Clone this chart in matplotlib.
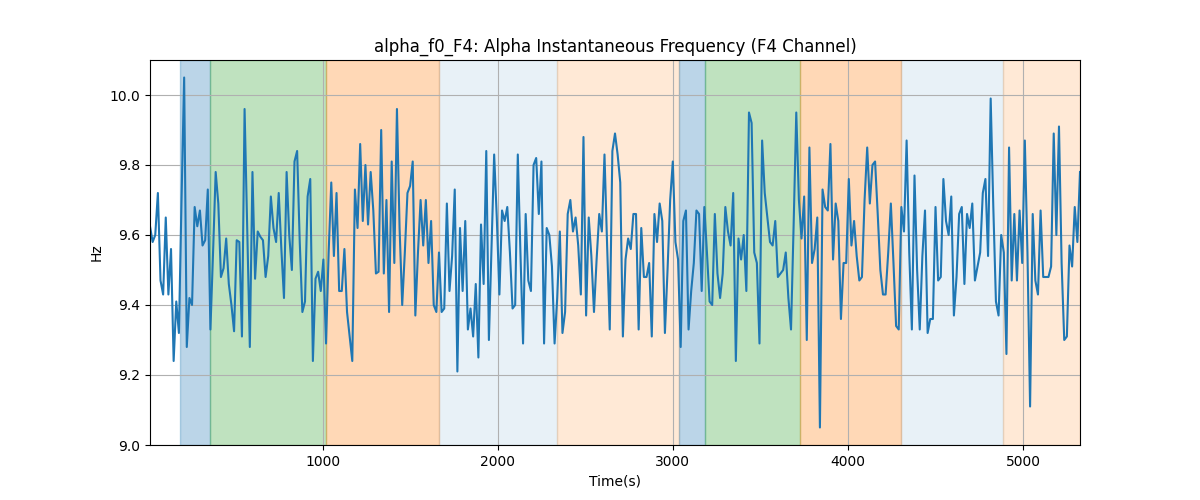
# -*- coding: utf-8 -*-
"""
plot.py
=======
Alpha instantaneous frequency of the F4 channel, with the labelled
segments shaded behind the trace.
"""

import numpy as np
import matplotlib
matplotlib.use("Agg")
import matplotlib.pyplot as plt

# ══════════════════════════════════════════════════════════════════════════════
#  Data
# ══════════════════════════════════════════════════════════════════════════════

STEP = 15  # seconds between samples

freq_hz = [
    9.625, 9.58, 9.60, 9.72, 9.47, 9.43, 9.65, 9.43, 9.56, 9.24, 9.41, 9.32,
    9.70, 10.05, 9.28, 9.42, 9.40, 9.68, 9.625, 9.67, 9.57, 9.585, 9.73, 9.33,
    9.55, 9.78, 9.69, 9.48, 9.505, 9.59, 9.46, 9.40, 9.325, 9.585, 9.58, 9.31,
    9.96, 9.62, 9.28, 9.78, 9.475, 9.61, 9.595, 9.585, 9.48,
    9.54, 9.71, 9.62, 9.58, 9.72, 9.56, 9.42, 9.78, 9.60, 9.50, 9.81, 9.84,
    9.58, 9.38, 9.41, 9.71, 9.76, 9.24, 9.475, 9.495, 9.44, 9.53, 9.29, 9.55,
    9.75, 9.54, 9.72, 9.44, 9.44, 9.56, 9.38, 9.31, 9.24, 9.73, 9.62, 9.86,
    9.64, 9.80, 9.63, 9.78, 9.67, 9.49, 9.495, 9.90, 9.49, 9.70,
    9.38, 9.81, 9.52, 9.96, 9.62, 9.40, 9.55, 9.72, 9.74, 9.81, 9.37, 9.55,
    9.70, 9.57, 9.70, 9.52, 9.64, 9.40, 9.38, 9.55, 9.38, 9.39, 9.69, 9.44,
    9.54, 9.73, 9.21, 9.62, 9.44, 9.64, 9.33, 9.39, 9.31, 9.46, 9.25, 9.63,
    9.46, 9.84, 9.30, 9.57, 9.83, 9.65, 9.43, 9.67,
    9.64, 9.68, 9.55, 9.39, 9.40, 9.83, 9.55, 9.29, 9.66, 9.47, 9.44, 9.80,
    9.82, 9.66, 9.81, 9.29, 9.62, 9.60, 9.51, 9.29, 9.42, 9.61, 9.32, 9.38,
    9.66, 9.70, 9.61, 9.65, 9.57, 9.43, 9.88, 9.37, 9.65, 9.54, 9.38, 9.53,
    9.66, 9.61, 9.83, 9.57, 9.33, 9.84, 9.89, 9.83, 9.75,
    9.31, 9.53, 9.59, 9.56, 9.66, 9.66, 9.33, 9.62, 9.48, 9.48, 9.52, 9.31,
    9.66, 9.58, 9.69, 9.64, 9.32, 9.50, 9.70, 9.81, 9.58, 9.53, 9.28, 9.64,
    9.67, 9.33, 9.44, 9.52, 9.67, 9.66, 9.44, 9.68, 9.55, 9.41, 9.40, 9.66,
    9.49, 9.42, 9.49, 9.68, 9.61, 9.57, 9.72,
    9.24, 9.59, 9.53, 9.60, 9.44, 9.95, 9.92, 9.55, 9.52, 9.29, 9.87, 9.72,
    9.65, 9.58, 9.57, 9.64, 9.48, 9.49, 9.50, 9.55, 9.42, 9.33, 9.63, 9.95,
    9.70, 9.59, 9.71, 9.30, 9.85, 9.52, 9.56, 9.65, 9.05, 9.73, 9.68, 9.67,
    9.86, 9.53, 9.69, 9.64, 9.36, 9.52, 9.52, 9.76, 9.57,
    9.64, 9.54, 9.47, 9.48, 9.70, 9.85, 9.69, 9.80, 9.81, 9.66, 9.50, 9.43,
    9.43, 9.55, 9.69, 9.52, 9.34, 9.33, 9.68, 9.61, 9.87, 9.55, 9.33, 9.77,
    9.50, 9.33, 9.54, 9.67, 9.32, 9.36, 9.36, 9.68, 9.47, 9.48, 9.76, 9.64,
    9.60, 9.71, 9.37, 9.48, 9.66, 9.68, 9.46, 9.66, 9.62,
    9.69, 9.47, 9.51, 9.55, 9.72, 9.76, 9.54, 9.99, 9.68, 9.41, 9.37, 9.60,
    9.55, 9.26, 9.85, 9.47, 9.66, 9.47, 9.67, 9.52, 9.87, 9.55, 9.11, 9.66,
    9.47, 9.43, 9.67, 9.48, 9.48, 9.48, 9.51, 9.89, 9.60, 9.91, 9.52, 9.30,
    9.31, 9.57, 9.51, 9.68, 9.58, 9.78,
]

# shaded segments: start / end (s), colour, opacity
seg_start = [187, 360, 1021, 1663, 2337, 3034, 3183, 3726, 4305, 4886]
seg_end   = [360, 1021, 1663, 2337, 3034, 3183, 3726, 4305, 4886, 5325]
seg_color = ["tab:blue", "tab:green", "tab:orange", "tab:blue", "tab:orange",
             "tab:blue", "tab:green", "tab:orange", "tab:blue", "tab:orange"]
seg_alpha = [0.3, 0.3, 0.3, 0.1, 0.17, 0.3, 0.3, 0.3, 0.1, 0.17]

# ══════════════════════════════════════════════════════════════════════════════
#  Plot
# ══════════════════════════════════════════════════════════════════════════════

time_s = STEP * np.arange(1, len(freq_hz) + 1)

fig, ax = plt.subplots(figsize=(12, 5), dpi=100)

for s, e, c, a in zip(seg_start, seg_end, seg_color, seg_alpha):
    ax.axvspan(s, e, color=c, alpha=a)

ax.plot(time_s, freq_hz, color="tab:blue", linewidth=1.5)

ax.set_xlim(time_s[0], time_s[-1])
ax.set_ylim(9.0, 10.1)
ax.set_xlabel("Time(s)")
ax.set_ylabel("Hz")
ax.set_title("alpha_f0_F4: Alpha Instantaneous Frequency (F4 Channel)")
ax.grid(True)

plt.savefig("out.png", dpi=100)
